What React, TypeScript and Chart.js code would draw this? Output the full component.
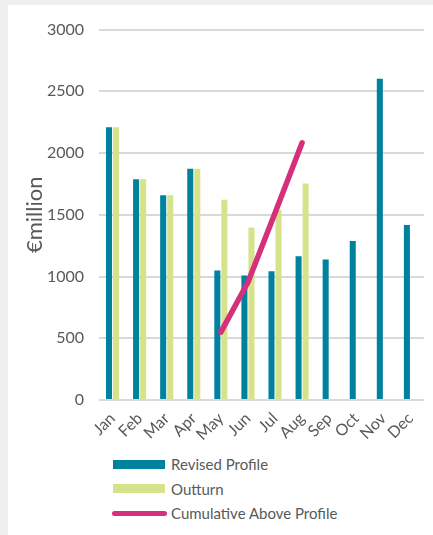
import React, { useEffect, useRef } from "react";
import { Chart, registerables } from "chart.js";

Chart.register(...registerables);

const months = ["Jan", "Feb", "Mar", "Apr", "May", "Jun", "Jul", "Aug", "Sep", "Oct", "Nov", "Dec"];
const revisedProfile = [2210, 1788, 1659, 1873, 1048, 1008, 1043, 1164, 1137, 1288, 2602, 1417];
const outturn = [2210, 1788, 1659, 1873, 1621, 1398, 1540, 1753, null, null, null, null];
const cumulativeAbove = [null, null, null, null, 550, 954, 1515, 2083, null, null, null, null];
const yTicks = [0, 500, 1000, 1500, 2000, 2500, 3000];

const TEAL = "#00829f";
const GREEN = "#d6e38a";
const MAGENTA = "#d4307b";
const TEXT = "#595959";
const FONT = "Lato, 'Open Sans', sans-serif";

const legendItems = [
  { label: "Revised Profile", color: TEAL, kind: "box" },
  { label: "Outturn", color: GREEN, kind: "box" },
  { label: "Cumulative Above Profile", color: MAGENTA, kind: "line" },
];

export default function App() {
  const ref = useRef<HTMLCanvasElement | null>(null);

  useEffect(() => {
    const b = document.body.style;
    b.margin = "5px 0 0 8px";
    b.background = "#efefef";
    b.overflow = "hidden";
    const ctx = ref.current!;
    const chart = new Chart(ctx, {
      type: "bar",
      data: {
        labels: months,
        datasets: [
          {
            type: "line",
            label: "Cumulative Above Profile",
            data: cumulativeAbove,
            borderColor: MAGENTA,
            backgroundColor: MAGENTA,
            borderWidth: 5.5,
            borderCapStyle: "round",
            borderJoinStyle: "round",
            pointRadius: 0,
            tension: 0,
            spanGaps: false,
            order: 0,
          } as any,
          {
            label: "Revised Profile",
            data: revisedProfile,
            backgroundColor: TEAL,
            categoryPercentage: 0.52,
            barPercentage: 0.86,
            order: 1,
          },
          {
            label: "Outturn",
            data: outturn,
            backgroundColor: GREEN,
            categoryPercentage: 0.52,
            barPercentage: 0.86,
            order: 1,
          },
        ],
      },
      options: {
        responsive: false,
        animation: false,
        layout: { padding: { top: 23, left: 0, right: 0, bottom: 0 } },
        plugins: {
          legend: { display: false },
          tooltip: { enabled: false },
          title: { display: false },
        },
        scales: {
          x: {
            grid: { display: false, drawTicks: false },
            border: { display: false },
            ticks: {
              color: TEXT,
              font: { family: FONT, size: 16 },
              minRotation: 45,
              maxRotation: 45,
              padding: 9,
              autoSkip: false,
            },
            afterFit: (s: any) => {
              s.height = 45;
            },
          },
          y: {
            min: 0,
            max: 3000,
            afterBuildTicks: (s: any) => {
              s.ticks = yTicks.map((v) => ({ value: v }));
            },
            grid: { color: "#d9d9d9", lineWidth: 2, drawTicks: false },
            border: { display: false },
            ticks: {
              color: TEXT,
              font: { family: FONT, size: 16 },
              padding: 15,
              callback: (v: any) => String(v),
            },
            title: {
              display: true,
              text: "€million",
              color: TEXT,
              font: { family: FONT, size: 22 },
              padding: { top: 14, bottom: 0 },
            },
            afterFit: (s: any) => {
              s.width = 91;
            },
          },
        },
      },
    });
    return () => chart.destroy();
  }, []);

  return (
    <div style={{ width: 425, height: 530, background: "#fff", position: "relative" }}>
      <canvas ref={ref} width={425} height={440} style={{ display: "block" }} />
      <div style={{ position: "absolute", left: 105, top: 447, fontFamily: FONT, fontSize: 15, color: TEXT }}>
        {legendItems.map((it) => (
          <div key={it.label} style={{ display: "flex", alignItems: "center", height: 24.5 }}>
            {it.kind === "box" ? (
              <span style={{ display: "inline-block", width: 52, height: 9, background: it.color }} />
            ) : (
              <span
                style={{
                  display: "inline-block",
                  width: 55,
                  height: 5,
                  borderRadius: 3,
                  background: it.color,
                  marginLeft: -1.5,
                  marginRight: -1.5,
                }}
              />
            )}
            <span style={{ marginLeft: 6, lineHeight: "18px" }}>{it.label}</span>
          </div>
        ))}
      </div>
    </div>
  );
}
